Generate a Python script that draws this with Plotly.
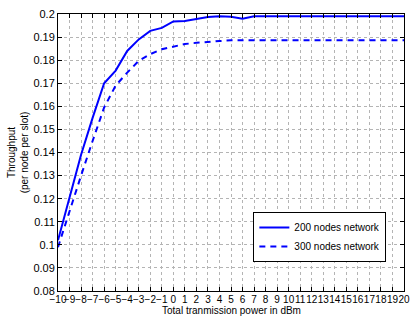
import plotly.graph_objects as go

power_dbm = list(range(-10, 21))
throughput_200 = [0.102, 0.121, 0.139, 0.155, 0.170, 0.1755, 0.184, 0.189, 0.1927, 0.194,
                  0.1968, 0.197, 0.198, 0.1987, 0.199, 0.1988, 0.198, 0.199, 0.199, 0.199,
                  0.199, 0.199, 0.199, 0.199, 0.199, 0.199, 0.199, 0.199, 0.199, 0.199, 0.199]
throughput_300 = [0.099, 0.115, 0.130, 0.145, 0.1595, 0.169, 0.1746, 0.1797, 0.1826, 0.1847,
                  0.186, 0.187, 0.1875, 0.188, 0.1883, 0.1886, 0.1886, 0.1886, 0.1886, 0.1886,
                  0.1886, 0.1886, 0.1886, 0.1886, 0.1886, 0.1886, 0.1886, 0.1886, 0.1886, 0.1886, 0.1886]
x_ticks = list(range(-10, 21))
x_tick_labels = [str(v).replace("-", "\u2212") for v in x_ticks]
y_ticks = [0.08, 0.09, 0.10, 0.11, 0.12, 0.13, 0.14, 0.15, 0.16, 0.17, 0.18, 0.19, 0.20]
y_tick_labels = ["0.08", "0.09", "0.1", "0.11", "0.12", "0.13", "0.14", "0.15", "0.16",
                 "0.17", "0.18", "0.19", "0.2"]
x_title = "Total tranmission power in dBm"

FONT = "Liberation Sans, Arial, Helvetica, sans-serif"

fig = go.Figure()
fig.add_trace(go.Scatter(x=power_dbm, y=throughput_200, mode="lines", name="200 nodes network",
                         line=dict(color="#0000ff", width=2)))
fig.add_trace(go.Scatter(x=power_dbm, y=throughput_300, mode="lines", name="300 nodes network",
                         line=dict(color="#0000ff", width=2, dash="6px,5px")))

fig.update_layout(
    width=416, height=325,
    margin=dict(l=58, r=6, t=14, b=34),
    paper_bgcolor="white", plot_bgcolor="white",
    font=dict(family=FONT, size=11, color="black"),
    showlegend=True,
    legend=dict(x=0.949, y=0.105, xanchor="right", yanchor="bottom",
                bgcolor="white", bordercolor="black", borderwidth=1,
                font=dict(size=10), tracegroupgap=0, itemwidth=30),
    annotations=[dict(text=x_title, xref="paper", yref="paper", x=0.5, y=0,
                      xanchor="center", yanchor="top", yshift=-12, showarrow=False,
                      font=dict(size=10))],
)
fig.update_xaxes(
    range=[-10, 20], tickmode="array", tickvals=x_ticks, ticktext=x_tick_labels, tickangle=0,
    ticks="inside", ticklen=4, tickcolor="black", ticklabelstandoff=-1,
    showline=True, linecolor="black", linewidth=1, mirror="ticks",
    showgrid=True, gridcolor="#b4b4b4", griddash="dot", gridwidth=1,
    zeroline=False, tickfont=dict(size=10),
)
fig.update_yaxes(
    range=[0.08, 0.2], tickmode="array", tickvals=y_ticks, ticktext=y_tick_labels,
    ticks="inside", ticklen=4, tickcolor="black",
    showline=True, linecolor="black", linewidth=1, mirror="ticks",
    showgrid=True, gridcolor="#b4b4b4", griddash="dot", gridwidth=1,
    zeroline=False, tickfont=dict(size=11),
    title=dict(text="Throughput<br>(per node per slot)", font=dict(size=10), standoff=2),
)

fig.write_html("out.html")
